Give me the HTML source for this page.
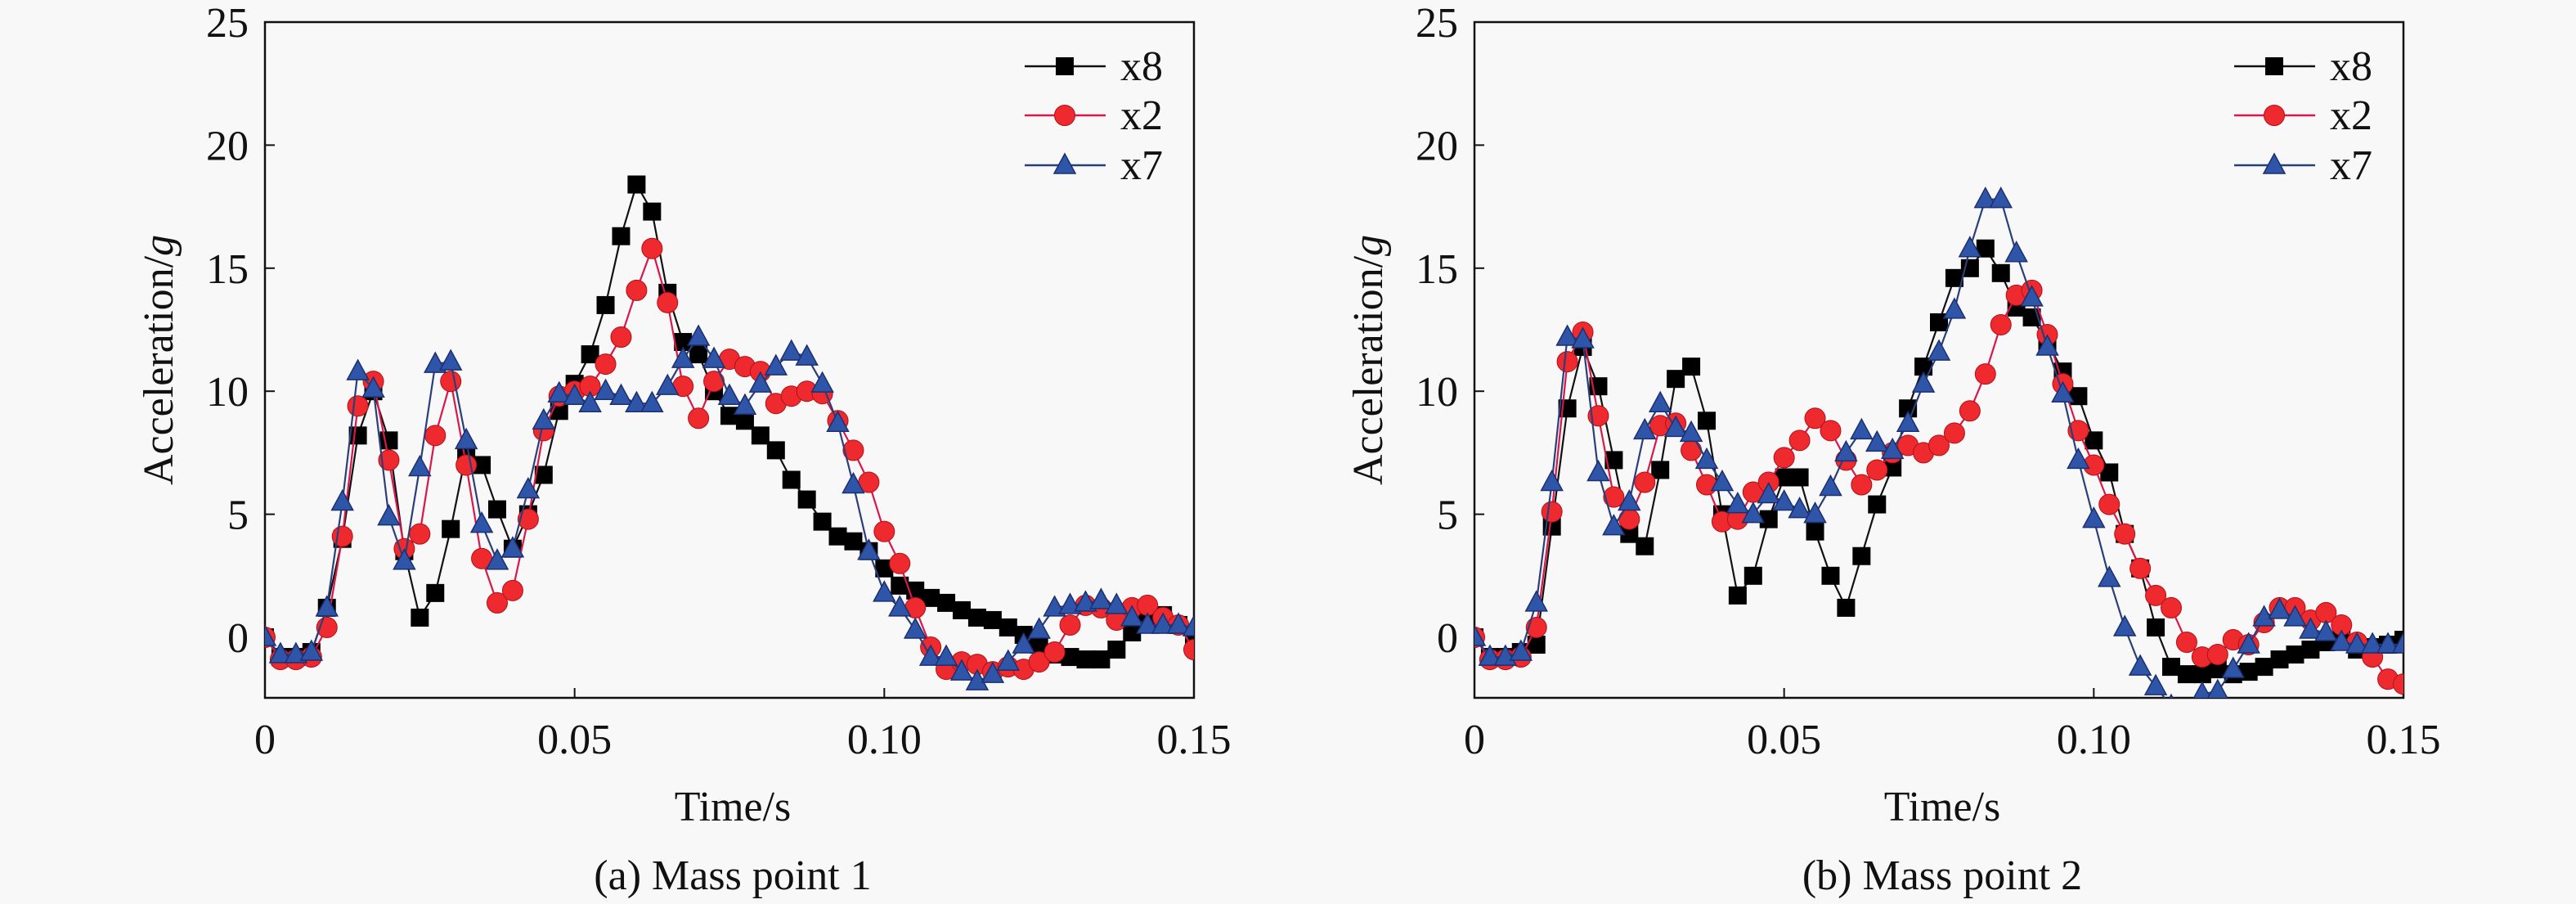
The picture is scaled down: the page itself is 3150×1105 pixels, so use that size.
<!DOCTYPE html>
<html><head><meta charset="utf-8"><style>
html,body{margin:0;padding:0;background:#f8f8f8}
svg{display:block;font-family:"Liberation Serif","DejaVu Serif",serif}
svg text{font-family:"Liberation Serif","DejaVu Serif",serif;fill:#111}
</style></head><body>
<svg id="chart" width="3150" height="1105" viewBox="0 0 3150 1105" font-family="Liberation Serif, serif"></svg>
<script>
const times = [];
for (let i = 0; i <= 60; i++) times.push(+(i * 0.0025).toFixed(4));
const xTicks = [0, 0.05, 0.10, 0.15];
const xTickLabels = ["0", "0.05", "0.10", "0.15"];
const yTicks = [0, 5, 10, 15, 20, 25];
const yTickLabels = ["0", "5", "10", "15", "20", "25"];
const seriesNames = ["x8", "x2", "x7"];
const a_x8 = [0,-0.8,-0.8,-0.6,1.2,4.0,8.2,10,8,3.5,0.8,1.8,4.4,7.5,7,5.2,3.6,5,6.6,9.2,10.3,11.5,13.5,16.3,18.4,17.3,14,12,11.5,10,9,8.8,8.2,7.6,6.4,5.6,4.7,4.1,3.9,3.5,2.8,2.1,1.9,1.6,1.4,1.1,0.8,0.7,0.4,0.1,-0.3,-0.7,-0.8,-0.9,-0.9,-0.5,0.2,0.7,0.9,0.5,-0.2];
const a_x2 = [0,-0.9,-0.9,-0.8,0.4,4.1,9.4,10.4,7.2,3.6,4.2,8.2,10.4,7,3.2,1.4,1.9,4.8,8.4,9.8,10,10.2,11.1,12.2,14.1,15.8,13.6,10.2,8.9,10.4,11.3,11,10.8,9.5,9.8,10,9.9,8.8,7.6,6.3,4.3,3.0,1.2,-0.4,-1.3,-1,-1.1,-1.4,-1.2,-1.3,-1,-0.6,0.5,1.3,1.2,0.7,1.2,1.3,0.8,0.5,-0.5];
const a_x7 = [0,-0.7,-0.7,-0.6,1.2,5.5,10.8,10.1,4.9,3.1,6.9,11.1,11.2,8,4.6,3.1,3.6,6,8.8,9.9,9.8,9.5,10,9.8,9.5,9.5,10.2,11.3,12.2,11.3,9.8,9.4,10.3,11,11.6,11.4,10.3,8.7,6.2,3.5,1.8,1.2,0.3,-0.8,-0.8,-1.4,-1.8,-1.5,-1.0,-0.3,0.3,1.2,1.3,1.4,1.5,1.3,0.8,0.5,0.5,0.5,0.4];
const b_x8 = [0,-0.8,-0.8,-0.6,-0.3,4.5,9.3,11.8,10.2,7.2,4.2,3.7,6.8,10.5,11,8.8,5,1.7,2.5,4.8,6.5,6.5,4.3,2.5,1.2,3.3,5.4,6.9,9.3,11,12.8,14.6,15,15.8,14.8,13.4,13,12,10.8,9.8,8,6.7,4.2,2.8,0.4,-1.2,-1.5,-1.5,-1.3,-1.5,-1.4,-1.2,-0.9,-0.7,-0.5,-0.2,0,-0.5,-0.4,-0.3,-0.1];
const b_x2 = [0,-0.9,-0.9,-0.8,0.4,5.1,11.2,12.4,9,5.7,4.8,6.3,8.6,8.7,7.6,6.2,4.7,4.8,5.9,6.3,7.3,8,8.9,8.4,7.2,6.2,6.8,7.5,7.8,7.5,7.8,8.3,9.2,10.7,12.7,13.9,14.1,12.3,10.3,8.4,7,5.4,4.2,2.8,1.7,1.2,-0.2,-0.8,-0.7,-0.1,-0.3,0.6,1.2,1.2,0.7,1.0,0.5,-0.2,-0.8,-1.7,-1.9];
const b_x7 = [0,-0.8,-0.8,-0.6,1.4,6.3,12.2,12.1,6.7,4.5,5.5,8.4,9.5,8.5,8.3,7.2,6.3,5.4,5,5.8,5.5,5.2,5,6.1,7.5,8.4,7.9,7.6,8.7,10.3,11.6,13.3,15.8,17.8,17.8,15.6,13.8,11.8,9.9,7.2,4.8,2.4,0.4,-1.2,-2,-2.8,-3,-2.3,-2.2,-1.3,-0.3,0.8,1.1,0.8,0.3,0.2,-0.2,-0.3,-0.3,-0.3,-0.3];

const NS = "http://www.w3.org/2000/svg";
const svg = document.getElementById("chart");
const FONT = "Liberation Serif, DejaVu Serif, serif";
function mk(tag, attrs, parent) {
  const e = document.createElementNS(NS, tag);
  for (const k in attrs) e.setAttribute(k, attrs[k]);
  if (tag === "text") e.setAttribute("font-family", FONT);
  (parent || svg).appendChild(e);
  return e;
}
const colors = ["#000000", "#ee2a2e", "#2f55a8"];
const lineColors = ["#111111", "#d8184a", "#2a3f7a"];
const strokes = ["#000000", "#b0101a", "#1c2f70"];

function marker(kind, x, y, g) {
  let e;
  if (kind === 0) e = mk("rect", {x: x - 11, y: y - 11, width: 22, height: 22, fill: colors[0]}, g);
  else if (kind === 1) e = mk("circle", {cx: x, cy: y, r: 12.5, fill: colors[1], stroke: strokes[1], "stroke-width": 1}, g);
  else e = mk("polygon", {points: `${x},${y - 14} ${x - 13},${y + 10} ${x + 13},${y + 10}`, fill: colors[2], stroke: strokes[2], "stroke-width": 1.5}, g);
  return e;
}

function panel(id, left, seriesList, caption) {
  const right = left + 1136, top = 27, bottom = 853;
  const xs = t => left + (t / 0.15) * (right - left);
  const ys = v => 779 - v * 30.08;
  const g = mk("g", {});
  
  
  const cp = mk("clipPath", {id: "clip" + id});
  mk("rect", {x: left, y: top, width: right - left, height: bottom - top}, cp);
  const frame = mk("rect", {x: left, y: top, width: right - left, height: bottom - top, fill: "none", stroke: "#111", "stroke-width": 2.5}, g);
  
  
  xTicks.forEach((t, i) => {
    const x = xs(t);
    const tk = mk("line", {x1: x, x2: x, y1: bottom, y2: bottom - 12, stroke: "#111", "stroke-width": 2}, g);
    
    
    const lb = mk("text", {x: x, y: 921, "font-size": 52, "text-anchor": "middle"}, g);
    lb.textContent = xTickLabels[i];
    
    
  });
  yTicks.forEach((v, i) => {
    const y = ys(v);
    const tk = mk("line", {x1: left, x2: left + 12, y1: y, y2: y, stroke: "#111", "stroke-width": 2}, g);
    
    
    const lb = mk("text", {x: left - 20, y: y + 18, "font-size": 52, "text-anchor": "end"}, g);
    lb.textContent = yTickLabels[i];
    
    
  });
  const xt = mk("text", {x: (left + right) / 2 + 4, y: 1003, "font-size": 52, "text-anchor": "middle"}, g);
  xt.textContent = "Time/s";
  
  
  const yt = mk("text", {x: 0, y: 0, "font-size": 52, "text-anchor": "middle", transform: `translate(${left - 113},440) rotate(-90)`}, g);
  yt.innerHTML = 'Acceleration/<tspan font-style="italic">g</tspan>';
  
  
  const cap = mk("text", {x: (left + right) / 2 + 4, y: 1087, "font-size": 52, "text-anchor": "middle"}, g);
  cap.textContent = caption;
  
  

  const plot = mk("g", {"clip-path": `url(#clip${id})`}, g);
  seriesList.forEach((vals, si) => {
    const sg = mk("g", {}, plot);
    
    
    const d = vals.map((v, i) => (i ? "L" : "M") + xs(times[i]).toFixed(1) + "," + ys(v).toFixed(1)).join(" ");
    const pl = mk("path", {d: d, fill: "none", stroke: lineColors[si], "stroke-width": 2.2}, sg);
    
    
    vals.forEach((v, i) => {
      const m = marker(si, xs(times[i]), ys(v), sg);
      
      
    });
  });

  const legX = right - 207;
  seriesNames.forEach((n, si) => {
    const y = [81, 141, 202][si];
    const lg = mk("g", {}, g);
    
    
    mk("line", {x1: legX, x2: legX + 99, y1: y, y2: y, stroke: lineColors[si], "stroke-width": 2.5}, lg);
    marker(si, legX + 49, y, lg);
    const t = mk("text", {x: legX + 117, y: y + 17, "font-size": 52}, lg);
    t.textContent = n;
  });
}
panel("a", 324, [a_x8, a_x2, a_x7], "(a) Mass point 1");
panel("b", 1803, [b_x8, b_x2, b_x7], "(b) Mass point 2");
</script>
</body></html>
